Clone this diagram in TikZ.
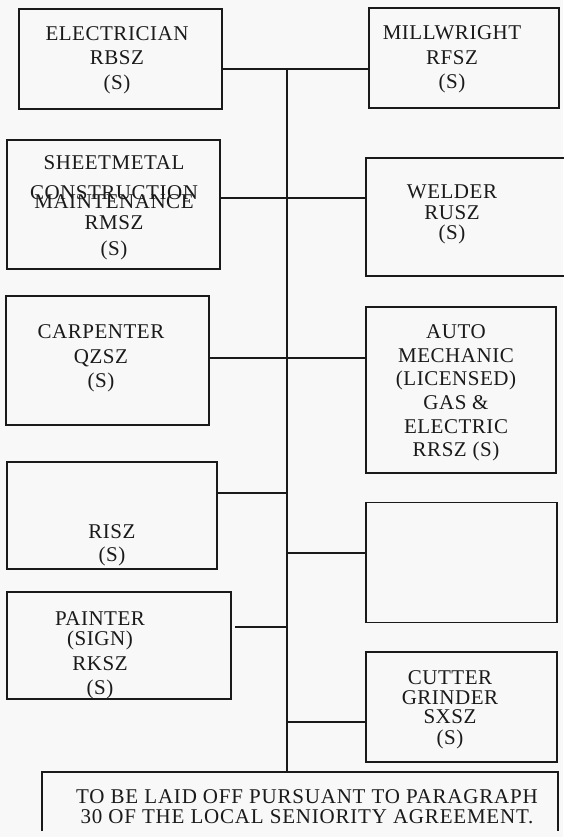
\documentclass[tikz,border=0pt]{standalone}
\usepackage{fontspec}
\setmainfont{Liberation Serif}[LetterSpace=2.5]
\usetikzlibrary{positioning}
\definecolor{ink}{HTML}{1A1A1A}
\definecolor{paper}{HTML}{F7F8F7}
\tikzset{
  font=\fontsize{21}{24.5}\selectfont,
  %
  jobbox/.style={draw=ink, line width=1.8pt, inner sep=0pt},
  jobtext/.style={align=center, text=ink, inner sep=0pt},
  tight/.style={font=\fontsize{21}{20.5}\selectfont},
  %
  tie/.style={draw=ink, line width=1.8pt},
}

\begin{document}
\begin{tikzpicture}[x=1pt, y=-1pt]

\path[use as bounding box, fill=paper] (0,0) rectangle (563,837);

% =========================================================================
% left column
\node[jobbox, minimum width=203pt, minimum height=100pt] (elec) at (120.5,59) {};
\node[jobtext] (elec-t) at (117,60) {ELECTRICIAN\\RBSZ\\(S)};

\node[jobbox, minimum width=213pt, minimum height=129pt] (sheet) at (113.5,204.5) {};
\node[jobtext] (sheet-t) at (114,208)
  {SHEETMETAL\\[5.5pt]CONSTRUCTION\\[-15.5pt]MAINTENANCE\\[-3.5pt]RMSZ\\[1.5pt](S)};

\node[jobbox, minimum width=203pt, minimum height=129pt] (carp) at (107.5,360.5) {};
\node[jobtext] (carp-t) at (101,358.5) {CARPENTER\\QZSZ\\(S)};

\node[jobbox, minimum width=210pt, minimum height=107pt] (risz) at (112,515.5) {};
\node[jobtext] (risz-t) at (112,545.5) {RISZ\\[-1.5pt](S)};

\node[jobbox, minimum width=224pt, minimum height=107pt] (paint) at (119,645.5) {};
\node[jobtext] (paint-t) at (100,655.5) {PAINTER\\[-4.5pt](SIGN)\\RKSZ\\(S)};

% =========================================================================
% right column
\node[jobbox, minimum width=190pt, minimum height=100pt] (mill) at (464,58) {};
\node[jobtext] (mill-t) at (452,59.5) {MILLWRIGHT\\RFSZ\\(S)};

\node[jobbox, minimum width=204pt, minimum height=118pt] (weld) at (468,217) {};
\node[jobtext, tight] (weld-t) at (452,214.5) {WELDER\\RUSZ\\(S)};

\node[jobbox, minimum width=190pt, minimum height=166pt] (auto) at (461,390) {};
\node[jobtext, font=\fontsize{21}{23.6}\selectfont] (auto-t) at (456,393)
  {AUTO\\MECHANIC\\(LICENSED)\\GAS \&\\ELECTRIC\\RRSZ (S)};

\node[jobbox, minimum width=191pt, minimum height=120pt] (blank) at (461.5,562.5) {};

\node[jobbox, minimum width=191pt, minimum height=110pt] (cutter) at (461.5,707) {};
\node[jobtext, tight] (cutter-t) at (450,709.5) {CUTTER\\GRINDER\\[-1.5pt]SXSZ\\(S)};

% =========================================================================
% note, open at the foot
\node[minimum width=516pt, minimum height=59pt, inner sep=0pt] (note) at (300,801.5) {};
\draw[tie] (note.south west) -- (note.north west) -- (note.north east) -- (note.south east);
\node[jobtext, font=\fontsize{21}{20}\selectfont\addfontfeature{LetterSpace=3.8}]
  (note-t) at (307,807)
  {TO BE LAID OFF PURSUANT TO PARAGRAPH\\30 OF THE LOCAL SENIORITY AGREEMENT.};

% =========================================================================
% trunk and ties
\coordinate (j1) at (287,69);
\coordinate (j2) at (287,198);
\coordinate (j3) at (287,358);
\coordinate (j4) at (287,493);
\coordinate (j5) at (287,553);
\coordinate (j6) at (287,627);
\coordinate (j7) at (287,722);

\draw[tie] (j1) -- (j1 |- note.north);
\draw[tie] (elec.east |- j1) -- (mill.west |- j1);
\draw[tie] (sheet.east |- j2) -- (weld.west |- j2);
\draw[tie] (carp.east |- j3) -- (auto.west |- j3);
\draw[tie] (risz.east |- j4) -- (j4);
\draw[tie] (j5) -- (blank.west |- j5);
\draw[tie] ([xshift=3pt]paint.east |- j6) -- (j6);
\draw[tie] (j7) -- (cutter.west |- j7);

\end{tikzpicture}
\end{document}
